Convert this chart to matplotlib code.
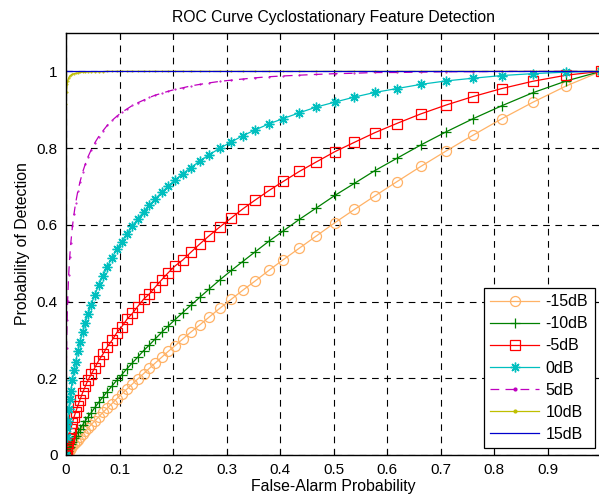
import numpy as np
import matplotlib
matplotlib.use('Agg')
import matplotlib.pyplot as plt

plt.rcParams['font.family'] = ['Liberation Sans', 'DejaVu Sans']

# false-alarm probability (shared by all SNR curves)
pf = [0, 0.001, 0.002, 0.003, 0.005, 0.007, 0.009, 0.012, 0.015, 0.018,
      0.022, 0.026, 0.031, 0.036, 0.041, 0.047, 0.054, 0.061, 0.069, 0.077,
      0.086, 0.095, 0.104, 0.114, 0.124, 0.134, 0.145, 0.156, 0.167, 0.179,
      0.191, 0.204, 0.218, 0.233, 0.250, 0.268, 0.288, 0.309, 0.330, 0.353,
      0.379, 0.406, 0.436, 0.468, 0.503, 0.539, 0.577, 0.618, 0.663, 0.710,
      0.760, 0.814, 0.872, 0.935, 1.0]

# probability of detection per SNR
pd_m15 = [0, 0.002, 0.004, 0.006, 0.010, 0.014, 0.018, 0.023, 0.028, 0.033,
          0.040, 0.046, 0.054, 0.062, 0.070, 0.079, 0.089, 0.099, 0.111, 0.122,
          0.134, 0.147, 0.159, 0.172, 0.185, 0.198, 0.212, 0.226, 0.240, 0.255,
          0.270, 0.285, 0.302, 0.320, 0.339, 0.360, 0.383, 0.406, 0.429, 0.453,
          0.481, 0.509, 0.539, 0.571, 0.606, 0.640, 0.675, 0.712, 0.752, 0.792,
          0.833, 0.876, 0.919, 0.962, 1.0]
pd_m10 = [0, 0.004, 0.008, 0.011, 0.017, 0.022, 0.028, 0.035, 0.043, 0.050,
          0.059, 0.068, 0.078, 0.089, 0.099, 0.110, 0.124, 0.137, 0.151, 0.165,
          0.180, 0.195, 0.209, 0.225, 0.240, 0.255, 0.272, 0.287, 0.303, 0.320,
          0.336, 0.353, 0.371, 0.390, 0.411, 0.433, 0.457, 0.481, 0.504, 0.529,
          0.557, 0.584, 0.614, 0.644, 0.677, 0.708, 0.741, 0.773, 0.808, 0.842,
          0.876, 0.910, 0.944, 0.975, 1.0]
pd_m5 = [0, 0.014, 0.023, 0.031, 0.045, 0.057, 0.069, 0.084, 0.099, 0.112,
         0.128, 0.144, 0.162, 0.179, 0.195, 0.210, 0.228, 0.246, 0.263, 0.282,
         0.299, 0.319, 0.334, 0.354, 0.369, 0.387, 0.406, 0.420, 0.438, 0.457,
         0.475, 0.493, 0.508, 0.528, 0.550, 0.572, 0.595, 0.618, 0.641, 0.664,
         0.689, 0.713, 0.739, 0.764, 0.791, 0.815, 0.840, 0.864, 0.889, 0.912,
         0.934, 0.955, 0.974, 0.990, 1.0]
pd_0 = [0, 0.046, 0.070, 0.089, 0.120, 0.145, 0.167, 0.196, 0.221, 0.243,
        0.270, 0.294, 0.321, 0.345, 0.367, 0.392, 0.418, 0.442, 0.467, 0.490,
        0.514, 0.536, 0.556, 0.577, 0.597, 0.615, 0.634, 0.651, 0.668, 0.685,
        0.701, 0.717, 0.733, 0.749, 0.766, 0.783, 0.800, 0.816, 0.832, 0.847,
        0.863, 0.877, 0.892, 0.907, 0.920, 0.933, 0.945, 0.955, 0.966, 0.975,
        0.982, 0.989, 0.994, 0.998, 1.0]
pd_5 = [0, 0.278, 0.353, 0.402, 0.470, 0.517, 0.553, 0.596, 0.629, 0.657,
        0.687, 0.711, 0.737, 0.758, 0.777, 0.795, 0.814, 0.830, 0.845, 0.859,
        0.872, 0.883, 0.893, 0.902, 0.911, 0.918, 0.925, 0.932, 0.938, 0.943,
        0.948, 0.953, 0.957, 0.962, 0.966, 0.970, 0.974, 0.977, 0.980, 0.983,
        0.986, 0.988, 0.990, 0.992, 0.994, 0.995, 0.997, 0.997, 0.998, 0.999,
        0.999, 1.0, 1.0, 1.0, 1.0]
pd_10 = [0.916, 0.946, 0.966, 0.975, 0.983, 0.988, 0.990, 0.993, 0.994, 0.995,
         0.996, 0.997, 0.998, 0.998, 0.999, 0.999, 0.999, 0.999, 0.999, 1.0,
         1.0, 1.0, 1.0, 1.0, 1.0, 1.0, 1.0, 1.0, 1.0, 1.0,
         1.0, 1.0, 1.0, 1.0, 1.0, 1.0, 1.0, 1.0, 1.0, 1.0,
         1.0, 1.0, 1.0, 1.0, 1.0, 1.0, 1.0, 1.0, 1.0, 1.0,
         1.0, 1.0, 1.0, 1.0, 1.0]
pd_15 = [1.0, 1.0, 1.0, 1.0, 1.0, 1.0, 1.0, 1.0, 1.0, 1.0,
         1.0, 1.0, 1.0, 1.0, 1.0, 1.0, 1.0, 1.0, 1.0, 1.0,
         1.0, 1.0, 1.0, 1.0, 1.0, 1.0, 1.0, 1.0, 1.0, 1.0,
         1.0, 1.0, 1.0, 1.0, 1.0, 1.0, 1.0, 1.0, 1.0, 1.0,
         1.0, 1.0, 1.0, 1.0, 1.0, 1.0, 1.0, 1.0, 1.0, 1.0,
         1.0, 1.0, 1.0, 1.0, 1.0]

labels = ['-15dB', '-10dB', '-5dB', '0dB', '5dB', '10dB', '15dB']
xticks = [0, 0.1, 0.2, 0.3, 0.4, 0.5, 0.6, 0.7, 0.8, 0.9]
yticks = [0, 0.2, 0.4, 0.6, 0.8, 1.0]

fig = plt.figure(figsize=(5.99, 4.99), dpi=100)
ax = fig.add_axes([0.1102, 0.0882, 0.8932, 0.8457])

lw = 0.9
ax.plot(pf, pd_m15, '-', color='#FFB266', marker='o', ms=7.2, mfc='none', mew=0.9, lw=lw, label=labels[0])
ax.plot(pf, pd_m10, '-', color='#008000', marker='+', ms=7, mew=0.9, lw=lw, label=labels[1])
ax.plot(pf, pd_m5, '-', color='#FF0000', marker='s', ms=7, mfc='none', mew=0.9, lw=lw, label=labels[2])
ax.plot(pf, pd_0, '-', color='#00BFBF', marker=(8, 2, 0), ms=7, mew=1.0, lw=lw, label=labels[3])
ax.plot(pf, pd_5, '--', color='#BF00BF', marker='.', ms=1.0, lw=lw, dashes=(7, 5), label=labels[4])
ax.plot(pf, pd_10, '-', color='#BFBF00', marker='.', ms=1.0, lw=lw, label=labels[5])
ax.plot(pf, pd_15, '-', color='#0000CC', lw=lw, label=labels[6])

ax.set_xlim(0, 1)
ax.set_ylim(0, 1.1)
ax.set_xticks(xticks)
ax.set_xticklabels(['0', '0.1', '0.2', '0.3', '0.4', '0.5', '0.6', '0.7', '0.8', '0.9'])
ax.set_yticks(yticks)
ax.set_yticklabels(['0', '0.2', '0.4', '0.6', '0.8', '1'])
ax.tick_params(direction='in', length=4, width=0.8, labelsize=11, pad=6, top=True, right=True)
ax.set_axisbelow(True)
ax.grid(True, color='black', linestyle=(0, (6, 5)), linewidth=0.8)
for s in ax.spines.values():
    s.set_linewidth(1.0)

ax.set_title('ROC Curve Cyclostationary Feature Detection', fontsize=11.3, pad=8)
ax.set_xlabel('False-Alarm Probability', fontsize=11.4, labelpad=1)
ax.set_ylabel('Probability of Detection', fontsize=11.4, labelpad=5)

# legend with MATLAB-like sizes; markers shown once per handle
leg = ax.legend(loc='lower left', bbox_to_anchor=(0.781, 0.0166), fontsize=11.5,
                handlelength=3.06, handletextpad=0.4, labelspacing=0.44,
                fancybox=False, framealpha=1, borderpad=0.4, borderaxespad=0,
                markerscale=1.0)
leg.get_frame().set_edgecolor('black')
leg.get_frame().set_linewidth(0.9)
for h in leg.legend_handles[4:6]:
    h.set_markersize(4)

fig.savefig('out.png', dpi=100)
